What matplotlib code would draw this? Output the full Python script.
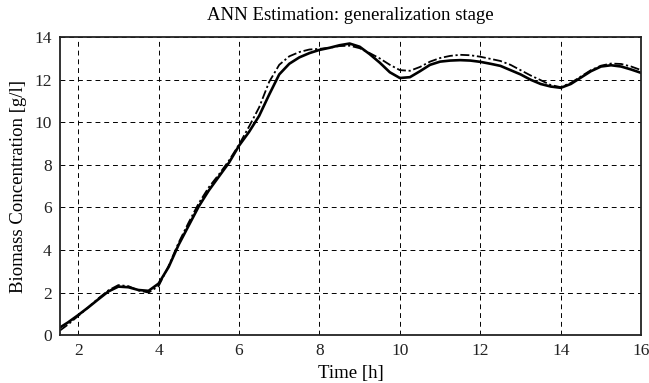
import numpy as np
import matplotlib
matplotlib.use('Agg')
from matplotlib import pyplot as plt

plt.rcParams['font.family'] = ['Liberation Serif', 'DejaVu Serif']

t = [1.55, 1.75, 2, 2.25, 2.5, 2.75, 3, 3.25, 3.5, 3.75, 4, 4.25, 4.5, 4.75, 5,
     5.25, 5.5, 5.75, 6, 6.25, 6.5, 6.75, 7, 7.25, 7.5, 7.75, 8, 8.25, 8.5, 8.75,
     9, 9.25, 9.5, 9.75, 10, 10.25, 10.5, 10.75, 11, 11.25, 11.5, 11.75, 12,
     12.25, 12.5, 12.75, 13, 13.25, 13.5, 13.75, 14, 14.25, 14.5, 14.75, 15,
     15.25, 15.5, 15.75, 16]

# measured biomass (solid)
biomass = [0.36, 0.6, 0.94, 1.3, 1.68, 2.05, 2.28, 2.25, 2.12, 2.08, 2.42, 3.2,
           4.25, 5.15, 6.05, 6.8, 7.45, 8.1, 8.9, 9.55, 10.3, 11.3, 12.25, 12.75,
           13.05, 13.25, 13.4, 13.5, 13.62, 13.7, 13.55, 13.2, 12.8, 12.35, 12.08,
           12.12, 12.4, 12.7, 12.85, 12.9, 12.92, 12.9, 12.84, 12.75, 12.65, 12.45,
           12.25, 12.0, 11.8, 11.68, 11.62, 11.8, 12.1, 12.4, 12.62, 12.68, 12.62,
           12.48, 12.32]

# ANN estimate (dash-dot)
ann = [0.22, 0.5, 0.9, 1.3, 1.72, 2.1, 2.35, 2.3, 2.1, 2.0, 2.3, 3.25, 4.35,
       5.3, 6.2, 6.95, 7.55, 8.2, 8.95, 9.8, 10.7, 11.9, 12.7, 13.1, 13.3, 13.42,
       13.45, 13.5, 13.58, 13.6, 13.48, 13.25, 13.0, 12.7, 12.45, 12.42, 12.6,
       12.85, 13.02, 13.12, 13.17, 13.15, 13.08, 12.98, 12.88, 12.7, 12.45, 12.2,
       11.98, 11.75, 11.65, 11.85, 12.15, 12.45, 12.66, 12.76, 12.74, 12.62, 12.45]

fig = plt.figure(figsize=(6.49, 3.83), dpi=100)
ax = fig.add_axes([0.0925, 0.125, 0.8955, 0.778])

ax.plot(t, biomass, color='black', lw=1.9, solid_capstyle='round', solid_joinstyle='round')
ax.plot(t, ann, color='black', lw=1.3, linestyle=(0, (5, 1.5, 1.2, 1.5)))

ax.set_xlim(1.55, 16)
ax.set_ylim(0, 14)
ax.set_xticks([2, 4, 6, 8, 10, 12, 14, 16])
ax.set_yticks([0, 2, 4, 6, 8, 10, 12, 14])
ax.grid(True, color='black', linestyle=(0, (5, 4)), lw=0.7)
ax.tick_params(length=0, labelsize=12.5, pad=6, colors='#222222')
for s in ax.spines.values():
    s.set_linewidth(1.3)
    s.set_color('#222222')

ax.set_title('ANN Estimation: generalization stage', fontsize=13.5, pad=12)
ax.set_xlabel('Time [h]', fontsize=13.5, labelpad=4)
ax.set_ylabel('Biomass Concentration [g/l]', fontsize=13.5, labelpad=5)

plt.savefig('out.png', dpi=100)
